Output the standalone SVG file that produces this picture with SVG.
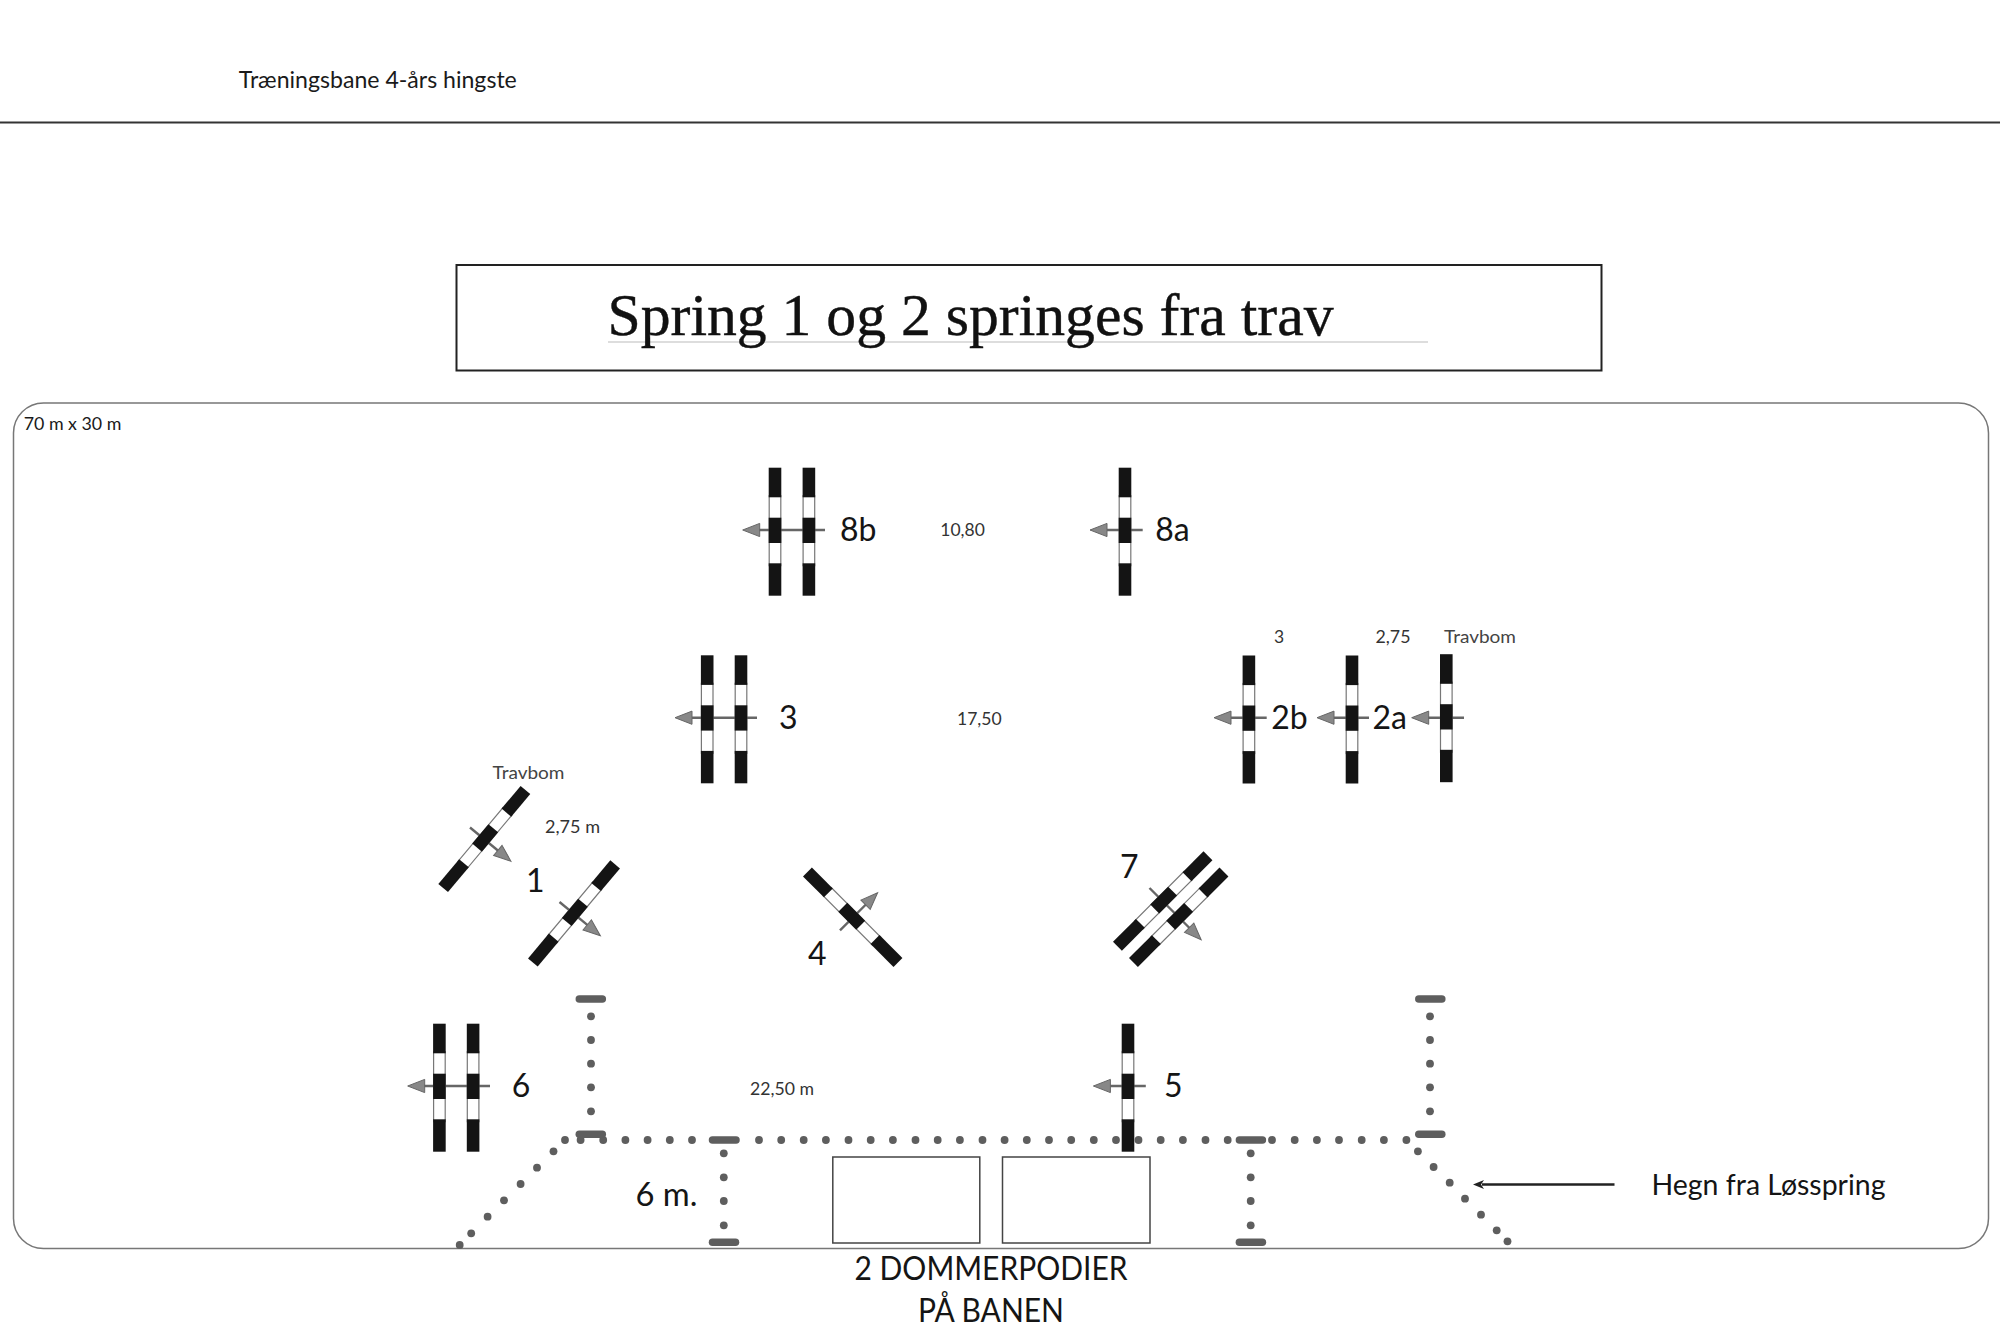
<svg xmlns="http://www.w3.org/2000/svg" width="2000" height="1333" viewBox="0 0 2000 1333">
<style>
.t{font-family:"Lato","Carlito","Liberation Sans",sans-serif;fill:#1a1a1a}
.s{font-size:18px;fill:#444}
.m{font-size:17.5px;fill:#333}
.l{font-size:32px;fill:#151515}
.b{fill:#141414}
.w{fill:#fff;stroke:#777;stroke-width:1.2}
.a{stroke:#666;stroke-width:2.4;fill:none;marker-end:url(#ah)}
.d{fill:#5e5e5e}
.d circle{r:3.9px}
.c{stroke:#5e5e5e;stroke-width:7.5;stroke-linecap:round}
.p{fill:#fff;stroke:#444;stroke-width:1.5}
</style>
<defs>
<marker id="ah" markerUnits="userSpaceOnUse" markerWidth="20" markerHeight="16" refX="5" refY="8" orient="auto" viewBox="0 0 20 16"><path d="M1,8 L18,1.4 L18,14.6 Z" transform="translate(19,16) rotate(180)" fill="#888" stroke="#666" stroke-width="1"/></marker>
<marker id="ab" markerUnits="userSpaceOnUse" markerWidth="12" markerHeight="12" refX="2" refY="6" orient="auto" viewBox="0 0 12 12"><path d="M0,1.5 L3,6 L0,10.5 L11,6 Z" fill="#222"/></marker>
<g id="pole">
<rect class="w" x="-5.8" y="-36" width="11.6" height="70"/>
<rect class="b" x="-6.3" y="-64" width="12.6" height="29.6"/>
<rect class="b" x="-6.3" y="-14" width="12.6" height="25.3"/>
<rect class="b" x="-6.3" y="31.6" width="12.6" height="32.4"/>
</g>
</defs>
<rect width="2000" height="1333" fill="#fff"/>
<g id="header">
<text class="t" x="238.8" y="87.7" font-size="23" textLength="278" lengthAdjust="spacingAndGlyphs">Træningsbane 4-års hingste</text>
<line x1="0" y1="122.5" x2="2000" y2="122.5" stroke="#333" stroke-width="2"/>
</g>
<g id="title">
<rect x="456.5" y="265" width="1145" height="105.5" fill="#fff" stroke="#222" stroke-width="2"/>
<line x1="608" y1="342" x2="1428" y2="342" stroke="#bbb" stroke-width="1.2"/>
<text x="607.5" y="335" font-family="'Liberation Serif',serif" font-size="60" textLength="726" lengthAdjust="spacingAndGlyphs" fill="#111" stroke="#111" stroke-width="0.4">Spring 1 og 2 springes fra trav</text>
</g>
<rect id="arena" x="13.5" y="403" width="1975" height="845.5" rx="30" ry="30" fill="none" stroke="#777" stroke-width="1.5"/>
<text class="t" x="23.7" y="430" font-size="18" textLength="97.7" lengthAdjust="spacingAndGlyphs">70 m x 30 m</text>
<g id="fence">
<g class="d">
<circle cx="591" cy="1016.3" r="3.9"/><circle cx="591" cy="1040" r="3.9"/><circle cx="591" cy="1063.7" r="3.9"/><circle cx="591" cy="1087.3" r="3.9"/><circle cx="591" cy="1111.3" r="3.9"/>
<circle cx="1430" cy="1016.3" r="3.9"/><circle cx="1430" cy="1040" r="3.9"/><circle cx="1430" cy="1063.7" r="3.9"/><circle cx="1430" cy="1087.3" r="3.9"/><circle cx="1430" cy="1111.3" r="3.9"/>
<circle cx="565" cy="1140" r="3.9"/><circle cx="580.6" cy="1140" r="3.9"/><circle cx="603.2" cy="1140" r="3.9"/><circle cx="625.4" cy="1140" r="3.9"/><circle cx="647.6" cy="1140" r="3.9"/><circle cx="669.8" cy="1140" r="3.9"/><circle cx="692" cy="1140" r="3.9"/>
<circle cx="759" cy="1140" r="3.9"/><circle cx="781.2" cy="1140" r="3.9"/><circle cx="803.7" cy="1140" r="3.9"/><circle cx="825.9" cy="1140" r="3.9"/><circle cx="848.5" cy="1140" r="3.9"/><circle cx="870.7" cy="1140" r="3.9"/><circle cx="892.9" cy="1140" r="3.9"/><circle cx="915.5" cy="1140" r="3.9"/><circle cx="937.7" cy="1140" r="3.9"/><circle cx="959.9" cy="1140" r="3.9"/><circle cx="982.5" cy="1140" r="3.9"/>
<circle cx="1004.6" cy="1140" r="3.9"/><circle cx="1026.8" cy="1140" r="3.9"/><circle cx="1049" cy="1140" r="3.9"/><circle cx="1071.2" cy="1140" r="3.9"/><circle cx="1093.8" cy="1140" r="3.9"/><circle cx="1116" cy="1140" r="3.9"/><circle cx="1138.5" cy="1140" r="3.9"/><circle cx="1160.7" cy="1140" r="3.9"/><circle cx="1182.9" cy="1140" r="3.9"/><circle cx="1205.5" cy="1140" r="3.9"/><circle cx="1227.7" cy="1140" r="3.9"/>
<circle cx="1272" cy="1140" r="3.9"/><circle cx="1294.7" cy="1140" r="3.9"/><circle cx="1316.9" cy="1140" r="3.9"/><circle cx="1339" cy="1140" r="3.9"/><circle cx="1361.7" cy="1140" r="3.9"/><circle cx="1383.9" cy="1140" r="3.9"/><circle cx="1406.4" cy="1140" r="3.9"/>
<circle cx="723.8" cy="1153.3" r="3.9"/><circle cx="723.8" cy="1177.3" r="3.9"/><circle cx="723.8" cy="1201" r="3.9"/><circle cx="723.8" cy="1225.3" r="3.9"/>
<circle cx="1250.7" cy="1153.3" r="3.9"/><circle cx="1250.7" cy="1177.3" r="3.9"/><circle cx="1250.7" cy="1201" r="3.9"/><circle cx="1250.7" cy="1225.3" r="3.9"/>
<circle cx="553.5" cy="1151.3" r="3.9"/><circle cx="537" cy="1167.7" r="3.9"/><circle cx="520.6" cy="1184" r="3.9"/><circle cx="504" cy="1200.3" r="3.9"/><circle cx="487.6" cy="1216.7" r="3.9"/><circle cx="471.2" cy="1233.3" r="3.9"/><circle cx="459.7" cy="1245" r="3.9"/>
<circle cx="1417.9" cy="1151.3" r="3.9"/><circle cx="1433.6" cy="1167" r="3.9"/><circle cx="1449.7" cy="1182.7" r="3.9"/><circle cx="1465" cy="1198.7" r="3.9"/><circle cx="1481" cy="1214.7" r="3.9"/><circle cx="1496.7" cy="1230.3" r="3.9"/><circle cx="1507.5" cy="1241.3" r="3.9"/>
</g>
<g class="c">
<line x1="579.3" y1="999" x2="602.3" y2="999"/><line x1="579.3" y1="1134.3" x2="602.3" y2="1134.3"/>
<line x1="1418.8" y1="999" x2="1441.8" y2="999"/><line x1="1418.8" y1="1134.3" x2="1441.8" y2="1134.3"/>
<line x1="712.5" y1="1140" x2="736" y2="1140"/><line x1="712.5" y1="1242.3" x2="735.5" y2="1242.3"/>
<line x1="1239.4" y1="1140" x2="1262.4" y2="1140"/><line x1="1239.4" y1="1242.3" x2="1262.4" y2="1242.3"/>
</g>
</g>
<g id="connectors">
<line class="a" x1="825" y1="530" x2="755.7" y2="530"/>
<line class="a" x1="1142.7" y1="530" x2="1103" y2="530"/>
<line class="a" x1="757" y1="717.7" x2="688" y2="717.7"/>
<line class="a" x1="1266.7" y1="717.7" x2="1227" y2="717.7"/>
<line class="a" x1="1369" y1="717.7" x2="1330" y2="717.7"/>
<line class="a" x1="1464" y1="717.7" x2="1424.7" y2="717.7"/>
<line class="a" x1="470" y1="827.5" x2="500.9" y2="853"/>
<line class="a" x1="559.5" y1="902" x2="590.3" y2="927.4"/>
<line class="a" x1="840" y1="930.3" x2="868.4" y2="902"/>
<line class="a" x1="1149.5" y1="888" x2="1192" y2="930.5"/>
<line class="a" x1="490" y1="1086" x2="420.7" y2="1086"/>
<line class="a" x1="1145.8" y1="1086" x2="1106.4" y2="1086"/>
<line x1="1614.5" y1="1184.5" x2="1482" y2="1184.5" stroke="#222" stroke-width="2.4" marker-end="url(#ab)"/>
</g>
<g id="n8b"><use href="#pole" transform="translate(775,531.7)"/><use href="#pole" transform="translate(808.9,531.7)"/><text class="t l" x="840" y="541">8b</text></g>
<g id="n8a"><use href="#pole" transform="translate(1125,531.7)"/><text class="t l" x="1155.3" y="541">8a</text></g>
<g id="n3"><use href="#pole" transform="translate(707.2,719.3)"/><use href="#pole" transform="translate(741,719.3)"/><text class="t l" x="779" y="728.5">3</text></g>
<g id="n2b"><use href="#pole" transform="translate(1248.9,719.5)"/><text class="t l" x="1271.3" y="728.5">2b</text></g>
<g id="n2a"><use href="#pole" transform="translate(1352,719.5)"/><text class="t l" x="1372.5" y="728.5">2a</text></g>
<g id="travbom2"><use href="#pole" transform="translate(1446.3,718.2)"/><text class="t s" x="1444" y="643" textLength="72" lengthAdjust="spacingAndGlyphs">Travbom</text></g>
<g id="travbom1"><use href="#pole" transform="translate(484.3,839) rotate(40)"/><text class="t s" x="492.5" y="778.5" textLength="72" lengthAdjust="spacingAndGlyphs">Travbom</text></g>
<g id="n1"><use href="#pole" transform="translate(574,913.4) rotate(40)"/><text class="t l" x="526" y="892">1</text></g>
<g id="n4"><use href="#pole" transform="translate(852.7,917.2) rotate(-45)"/><text class="t l" x="808" y="964.5">4</text></g>
<g id="n7"><use href="#pole" transform="translate(1162.7,901) rotate(45)"/><use href="#pole" transform="translate(1178.7,917.3) rotate(45)"/><text class="t l" x="1120" y="877.5">7</text></g>
<g id="n6"><use href="#pole" transform="translate(439.4,1087.7)"/><use href="#pole" transform="translate(473.1,1087.7)"/><text class="t l" x="511.7" y="1096.5">6</text></g>
<g id="n5"><use href="#pole" transform="translate(1128,1087.7)"/><text class="t l" x="1164" y="1096.5">5</text></g>
<g id="podium1"><rect class="p" x="832.8" y="1157" width="147" height="86"/></g>
<g id="podium2"><rect class="p" x="1002.5" y="1157" width="147.5" height="86"/></g>
<g id="labels">
<text class="t m" x="940.3" y="536.2" textLength="44.5" lengthAdjust="spacingAndGlyphs">10,80</text>
<text class="t m" x="957" y="725" textLength="44.7" lengthAdjust="spacingAndGlyphs">17,50</text>
<text class="t m" x="1274" y="643">3</text>
<text class="t m" x="1375.5" y="643" textLength="35" lengthAdjust="spacingAndGlyphs">2,75</text>
<text class="t m" x="545" y="832.5" textLength="55" lengthAdjust="spacingAndGlyphs">2,75 m</text>
<text class="t m" x="750" y="1094.5" textLength="64" lengthAdjust="spacingAndGlyphs">22,50 m</text>
<text class="t l" x="635.5" y="1205.7" textLength="62" lengthAdjust="spacingAndGlyphs">6 m.</text>
<text class="t l" x="854.5" y="1280" textLength="273" lengthAdjust="spacingAndGlyphs">2 DOMMERPODIER</text>
<text class="t l" x="918" y="1321.5" textLength="146" lengthAdjust="spacingAndGlyphs">PÅ BANEN</text>
<text class="t l" x="1651.5" y="1195" textLength="234" lengthAdjust="spacingAndGlyphs" style="font-size:29px">Hegn fra Løsspring</text>
</g>
</svg>
